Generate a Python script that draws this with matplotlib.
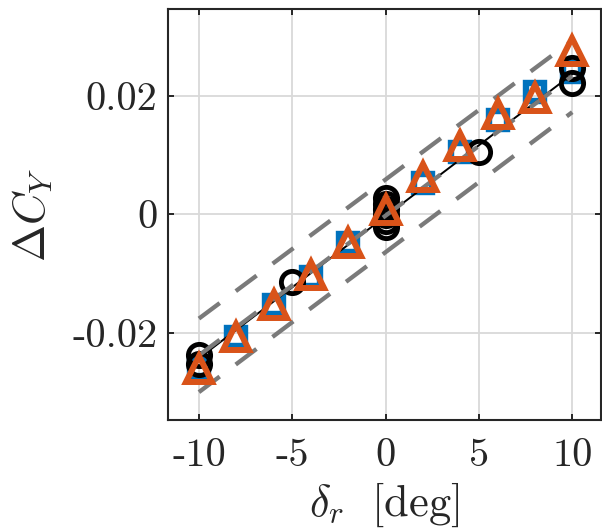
import matplotlib
matplotlib.use("Agg")
import matplotlib.pyplot as plt

plt.rcParams['mathtext.fontset'] = 'cm'
plt.rcParams['font.family'] = ['cmr10', 'DejaVu Serif']
plt.rcParams['axes.unicode_minus'] = False
plt.rcParams['lines.scale_dashes'] = False

# ---- data ----
x_circ = [-10, -10, -5, 0, 0, 0, 0, 0, 0, 5, 10, 10]
y_circ = [-0.0237, -0.0253, -0.0114, 0.0028, 0.0018, 0.0008, -0.0002,
          -0.0012, -0.0021, 0.0105, 0.0222, 0.0246]

x_sq = [-10, -8, -6, -4, -2, 0, 2, 4, 6, 8, 10]
y_sq = [-0.0257, -0.0207, -0.0153, -0.0106, -0.0049, 0.0001, 0.0052, 0.0105, 0.0158, 0.0206, 0.0240]

x_tri = [-10, -8, -6, -4, -2, 0, 2, 4, 6, 8, 10]
y_tri = [-0.0261, -0.0207, -0.0153, -0.0103, -0.0049, 0.0007, 0.0062, 0.0115, 0.0169, 0.0196, 0.0275]

fit_x = [-10, 10]
fit_y = [-0.0243, 0.0236]
model_y = [-0.0238, 0.0233]
upper_y = [-0.0176, 0.0293]
lower_y = [-0.0300, 0.0172]

xticks = [-10, -5, 0, 5, 10]
xticklabels = ['-10', '-5', '0', '5', '10']
yticks = [-0.02, 0, 0.02]
yticklabels = ['-0.02', '0', '0.02']

blue = '#0072BD'
orange = '#D95319'
gray = '#7a7a7a'

fig = plt.figure(figsize=(6.02, 5.32), dpi=100)
ax = fig.add_axes([168.3 / 602, 112 / 532, (601 - 168.3) / 602, (420 - 9) / 532])

ax.grid(True, color='#d9d9d9', linewidth=1.3, zorder=0)
ax.set_axisbelow(True)

ax.plot(x_sq, y_sq, linestyle='none', marker='s', markersize=13.5, markerfacecolor='none',
        markeredgecolor=blue, markeredgewidth=4.6, zorder=3)
ax.plot(x_circ, y_circ, linestyle='none', marker='o', markersize=16.0, markerfacecolor='none',
        markeredgecolor='black', markeredgewidth=3.5, zorder=4)
ax.plot(fit_x, fit_y, color='black', linewidth=1.4, zorder=5)
for yy in (model_y, upper_y, lower_y):
    ax.plot(fit_x, yy, color=gray, linewidth=3.1, dashes=(18.7, 14.4),
            dash_capstyle='butt', zorder=5)
ax.plot(x_tri, y_tri, linestyle='none', marker='^', markersize=18.5, markerfacecolor='none',
        markeredgecolor=orange, markeredgewidth=4.3, zorder=6)

ax.set_xlim(-11.64, 11.54)
ax.set_ylim(-0.0347, 0.0346)
ax.set_xticks(xticks)
ax.set_xticklabels(xticklabels)
ax.set_yticks(yticks)
ax.set_yticklabels(yticklabels)

ax.tick_params(direction='in', length=4.5, width=1.4, top=True, right=True,
               labelsize=29, color='#262626', labelcolor='#262626')
ax.tick_params(axis='x', pad=13)
ax.tick_params(axis='y', pad=8)
for s in ax.spines.values():
    s.set_linewidth(1.5)
    s.set_color('#262626')

ax.set_xlabel(r'$\delta_r\ \ [\mathrm{deg}]$', fontsize=32, color='#262626', labelpad=5)
ax.set_ylabel(r'$\Delta C_Y$', fontsize=32, color='#262626', labelpad=12)

fig.savefig('out.png', dpi=100)
